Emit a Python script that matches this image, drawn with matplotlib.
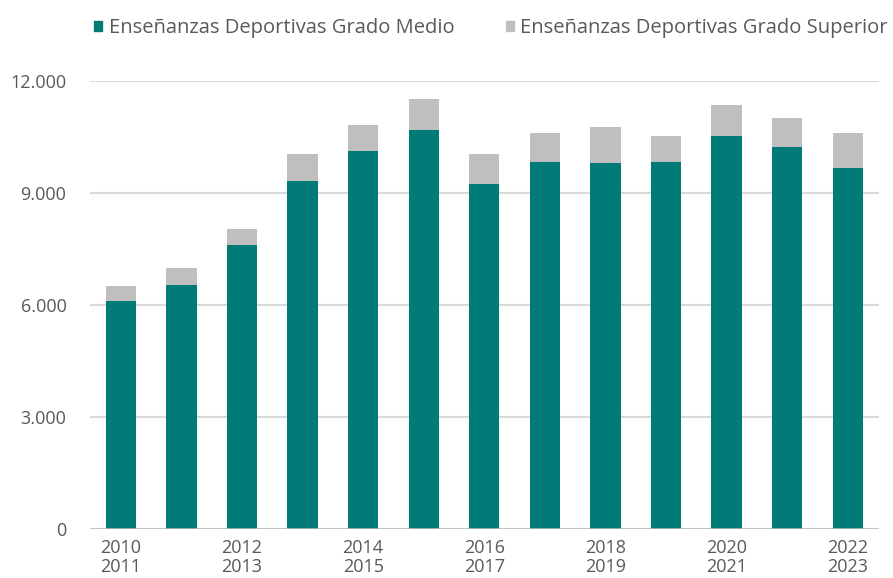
import numpy as np
import matplotlib.pyplot as plt
from matplotlib.patches import Patch

# --- Data ---
cursos = ["2010\n2011", "2011\n2012", "2012\n2013", "2013\n2014", "2014\n2015",
          "2015\n2016", "2016\n2017", "2017\n2018", "2018\n2019", "2019\n2020",
          "2020\n2021", "2021\n2022", "2022\n2023"]
grado_medio = [6100, 6520, 7610, 9315, 10130, 10685, 9235, 9835, 9800, 9835, 10525, 10235, 9665]
total = [6495, 7000, 8045, 10030, 10810, 11510, 10030, 10605, 10765, 10530, 11350, 11000, 10605]
grado_superior = [t - m for t, m in zip(total, grado_medio)]

TEAL = "#007b77"
GRAY = "#bfbfbf"
TXT = "#595959"

plt.rcParams['font.family'] = ['Open Sans', 'DejaVu Sans']

fig = plt.figure(figsize=(8.93, 5.78), dpi=100)
ax = fig.add_axes([0.1008, 0.085, 0.883, 0.775])

x = np.arange(len(cursos))
ax.bar(x, grado_medio, width=0.5, color=TEAL, zorder=3)
ax.bar(x, grado_superior, width=0.5, bottom=grado_medio, color=GRAY, zorder=3)

ax.set_xlim(-0.51, len(cursos) - 0.49)
ax.set_ylim(0, 12000)
ax.set_yticks([0, 3000, 6000, 9000, 12000])
ax.set_yticklabels(["0", "3.000", "6.000", "9.000", "12.000"])
ax.set_xticks(x[::2])
ax.set_xticklabels([cursos[i] for i in range(0, len(cursos), 2)], linespacing=1.1)

ax.grid(axis="y", color="#d9d9d9", linewidth=1.5, zorder=0)
ax.axhline(0, color="#bdbdbd", linewidth=1.8, zorder=4)
for s in ax.spines.values():
    s.set_visible(False)
ax.tick_params(axis="both", length=0, colors=TXT, labelsize=13)
ax.tick_params(axis="y", pad=17)
ax.tick_params(axis="x", pad=7)

handles = [Patch(color=TEAL, label="Enseñanzas Deportivas Grado Medio"),
           Patch(color=GRAY, label="Enseñanzas Deportivas Grado Superior")]
leg = fig.legend(handles=handles, loc="upper left", bbox_to_anchor=(0.085, 1.0), ncol=2,
                 frameon=False, fontsize=14.5, handlelength=0.42, handleheight=0.42,
                 handletextpad=0.3, columnspacing=2.55)
for t in leg.get_texts():
    t.set_color(TXT)

fig.savefig("out.png", dpi=100)
